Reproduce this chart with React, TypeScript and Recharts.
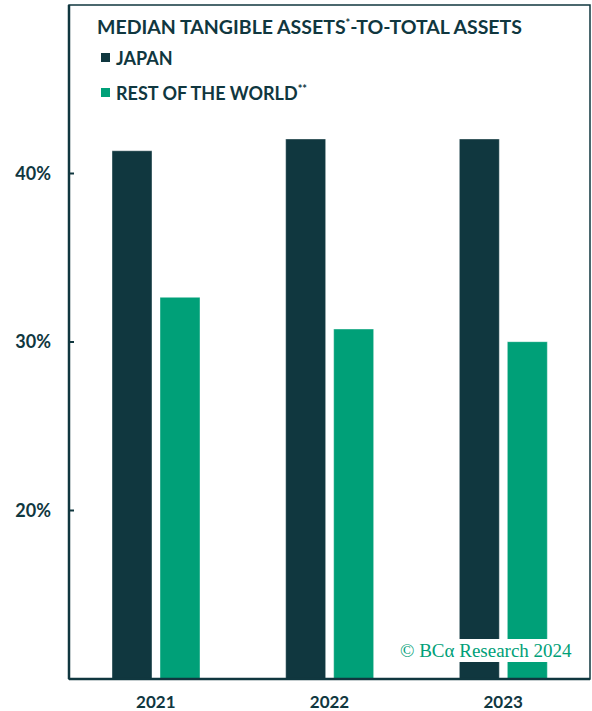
import { BarChart, Bar, XAxis, YAxis, Legend, ReferenceArea } from 'recharts';

const YEARS = ['2021', '2022', '2023'];
const JAPAN = [41.35, 42.05, 42.05];
const REST_OF_WORLD = [32.65, 30.77, 30.02];
const Y_TICKS = [20, 30, 40];

const DARK = '#10373f';
const GREEN = '#00a078';
const FONT = 'Lato, "Open Sans", sans-serif';

const data = YEARS.map((year, i) => ({ year, japan: JAPAN[i], row: REST_OF_WORLD[i] }));

// trailing asterisks (footnote marks) are drawn as small superscripts
function withNotes(label: string) {
  const m = label.match(/^(.*?)(\*+)$/);
  if (!m) return label;
  return (
    <>
      {m[1]}
      <sup style={{ fontSize: 11, lineHeight: 0 }}>{m[2]}</sup>
    </>
  );
}

function LegendBox({ payload }: any) {
  return (
    <div style={{ fontFamily: FONT, fontWeight: 700, color: DARK, fontSize: 18 }}>
      {(payload || []).map((p: any) => (
        <div key={p.value} style={{ display: 'flex', alignItems: 'center', height: 35 }}>
          <span style={{ width: 9, height: 9, background: p.color, marginRight: 6 }} />
          <span>{withNotes(p.value)}</span>
        </div>
      ))}
    </div>
  );
}

export default function App() {
  return (
    <div style={{ position: 'absolute', left: 0, top: 0, width: 592, height: 711, background: '#fff' }}>
      <BarChart width={592} height={711} data={data} margin={{ top: 5, right: 2, bottom: 0, left: 0 }} barSize={40} barGap={8}>
        <ReferenceArea y1={10} y2={50} fill="none" stroke={DARK} strokeWidth={1.5} fillOpacity={0} />
        <XAxis
          dataKey="year"
          height={32}
          tickLine={false}
          tickSize={0}
          tickMargin={17}
          axisLine={{ stroke: DARK, strokeWidth: 2.5 }}
          tick={{ fill: DARK, fontSize: 17, fontWeight: 700, fontFamily: FONT }}
        />
        <YAxis
          width={69}
          domain={[10, 50]}
          ticks={Y_TICKS}
          tickSize={-5}
          tickMargin={23}
          tickLine={{ stroke: DARK, strokeWidth: 2 }}
          axisLine={{ stroke: DARK, strokeWidth: 2.5 }}
          tickFormatter={(v) => `${v}%`}
          tick={{ fill: DARK, fontSize: 18, fontWeight: 700, fontFamily: FONT }}
        />
        <Legend
          layout="vertical"
          align="center"
          verticalAlign="middle"
          wrapperStyle={{ top: 40, left: 101, width: 'auto' }}
          content={<LegendBox />}
        />
        <Bar dataKey="japan" name="JAPAN" fill={DARK} stroke="rgba(255,255,255,0.4)" strokeWidth={1} isAnimationActive={false} />
        <Bar dataKey="row" name="REST OF THE WORLD**" fill={GREEN} stroke="rgba(255,255,255,0.4)" strokeWidth={1} isAnimationActive={false} />
      </BarChart>
      <div style={{ position: 'absolute', left: 97, top: 15, fontFamily: FONT, fontWeight: 700, fontSize: 19.5, color: DARK, whiteSpace: 'nowrap' }}>
        MEDIAN TANGIBLE ASSETS<sup style={{ fontSize: 11 }}>*</sup>-TO-TOTAL ASSETS
      </div>
      <div style={{ position: 'absolute', left: 397, top: 639, padding: '0 3px', background: '#fff', fontFamily: '"Liberation Serif", serif', fontSize: 19, lineHeight: '23px', color: GREEN, whiteSpace: 'nowrap' }}>
        © BCα Research 2024
      </div>
    </div>
  );
}
